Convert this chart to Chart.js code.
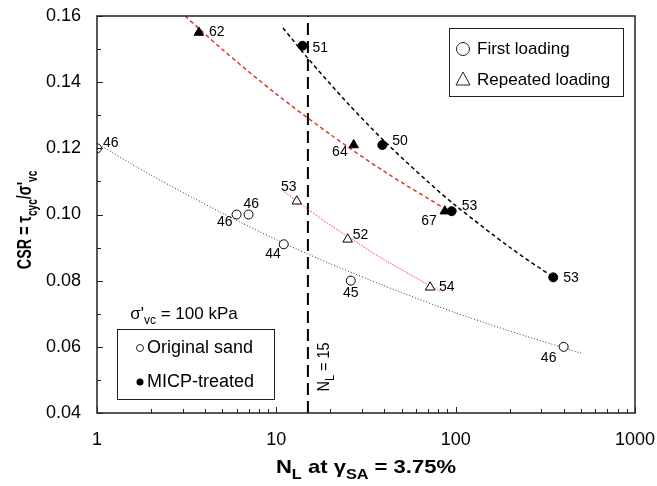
<!DOCTYPE html>
<html>
<head>
<meta charset="utf-8">
<script src="https://cdn.jsdelivr.net/npm/chart.js@4.4.1/dist/chart.umd.min.js"></script>
<style>
  html, body { margin: 0; padding: 0; background: #fff; }
  canvas { display: block; }
</style>
</head>
<body>
<canvas id="csrChart" width="657" height="486"></canvas>
<script>
// Original sand - first loading
const origFirstN = [1, 6, 7, 11, 26, 400];
const origFirstCSR = [0.120, 0.100, 0.100, 0.091, 0.080, 0.060];
const origFirstDr = ['46', '46', '46', '44', '45', '46'];

// Original sand - repeated loading
const origRepN = [13, 25, 72];
const origRepCSR = [0.104, 0.0925, 0.078];
const origRepDr = ['53', '52', '54'];

// MICP-treated - first loading
const micpFirstN = [14, 39, 95, 350];
const micpFirstCSR = [0.151, 0.121, 0.101, 0.081];
const micpFirstDr = ['51', '50', '53', '53'];

// MICP-treated - repeated loading
const micpRepN = [3.7, 27, 87];
const micpRepCSR = [0.155, 0.121, 0.101];
const micpRepDr = ['62', '64', '67'];

// Trend lines
const trendOrigFirstN = [1, 2, 5, 10, 20, 50, 100, 200, 507];
const trendOrigFirstCSR = [0.1215, 0.1119, 0.1004, 0.0924, 0.0851, 0.0764, 0.0703, 0.0648, 0.058];
const trendOrigRepN = [11, 13, 18, 25, 35, 50, 82];
const trendOrigRepCSR = [0.107, 0.1041, 0.0985, 0.0934, 0.0882, 0.0833, 0.0767];
const trendMicpRepN = [3.1, 5, 10, 20, 40, 95];
const trendMicpRepCSR = [0.160, 0.1499, 0.1364, 0.1242, 0.113, 0.1005];
const trendMicpFirstN = [10.9, 15, 25, 40, 70, 100, 200, 350];
const trendMicpFirstCSR = [0.1564, 0.1472, 0.1336, 0.1222, 0.1099, 0.1027, 0.0901, 0.081];

const limitN = 15;
const xTicks = [1, 10, 100, 1000];
const yTicks = [0.04, 0.06, 0.08, 0.10, 0.12, 0.14, 0.16];

const FONT = "'Liberation Sans', Arial, sans-serif";

function toPoints(xs, ys) {
    return xs.map((v, i) => ({ x: v, y: ys[i] }));
}

// label offsets [dx, dy, align] for each marker, relative to the marker centre
const origFirstPos = [[6, -5, 'left'], [-4, 8, 'right'], [-5, -10, 'left'], [-3, 10, 'right'], [0, 12, 'center'], [-15, 11, 'center']];
const origRepPos = [[-8, -14, 'center'], [5, -4, 'left'], [9, 0, 'left']];
const micpFirstPos = [[10, 2, 'left'], [10, -4, 'left'], [10, -5, 'left'], [10, 1, 'left']];
const micpRepPos = [[10, 0, 'left'], [-6, 7, 'right'], [-8, 10, 'right']];

function markerSet(xs, ys, texts, pos, style, filled) {
    return {
        data: toPoints(xs, ys),
        pointStyle: style,
        pointRadius: style === 'triangle' ? 5.5 : 4.5,
        pointBackgroundColor: filled ? '#000' : '#fff',
        pointBorderColor: '#000',
        pointBorderWidth: 1,
        showLine: false,
        labelText: texts,
        labelPos: pos
    };
}

function trendSet(xs, ys, color, dash, width) {
    return {
        data: toPoints(xs, ys),
        showLine: true,
        pointRadius: 0,
        borderColor: color,
        borderWidth: width,
        borderDash: dash,
        tension: 0.3
    };
}

// draw a run of text pieces, some as subscripts, centred on (cx, cy);
// stretch scales the text along its own direction
function drawRuns(ctx, runs, cx, cy, size, bold, stretch) {
    const w = bold ? 'bold ' : '';
    const s = stretch || 1;
    let total = 0;
    runs.forEach(r => {
        ctx.font = w + (r.sub ? Math.round(size * 0.72) : size) + 'px ' + FONT;
        total += ctx.measureText(r.t).width;
    });
    ctx.save();
    ctx.translate(cx, cy);
    ctx.scale(s, 1);
    let xPos = -total / 2;
    ctx.textAlign = 'left';
    ctx.textBaseline = 'alphabetic';
    runs.forEach(r => {
        ctx.font = w + (r.sub ? Math.round(size * 0.72) : size) + 'px ' + FONT;
        ctx.fillText(r.t, xPos, size * 0.36 + (r.sub ? size * 0.3 : 0));
        xPos += ctx.measureText(r.t).width;
    });
    ctx.restore();
}

const extras = {
    id: 'extras',
    afterDraw(chart) {
        const { ctx, chartArea: a, scales: { x, y } } = chart;
        ctx.save();

        // frame
        ctx.strokeStyle = '#222';
        ctx.lineWidth = 1.5;
        ctx.strokeRect(a.left, a.top, a.right - a.left, a.bottom - a.top);

        // inward ticks
        ctx.lineWidth = 1;
        ctx.beginPath();
        for (let v = 0.04; v <= 0.1601; v += 0.01) {
            const py = Math.round(y.getPixelForValue(v)) + 0.5;
            const major = Math.round(v * 100) % 2 === 0;
            ctx.moveTo(a.left, py);
            ctx.lineTo(a.left + (major ? 6 : 4), py);
        }
        for (let d = 1; d < 1000; d *= 10) {
            for (let m = 1; m <= 10; m++) {
                const px = Math.round(x.getPixelForValue(d * m)) + 0.5;
                const major = m === 1 || m === 10;
                ctx.moveTo(px, a.bottom);
                ctx.lineTo(px, a.bottom - (major ? 6 : 4));
            }
        }
        ctx.stroke();

        // point labels
        ctx.fillStyle = '#000';
        ctx.font = '14px ' + FONT;
        ctx.textBaseline = 'middle';
        chart.data.datasets.forEach((ds, i) => {
            if (!ds.labelText) return;
            const meta = chart.getDatasetMeta(i);
            meta.data.forEach((pt, j) => {
                const p = ds.labelPos[j];
                ctx.textAlign = p[2];
                ctx.fillText(ds.labelText[j], pt.x + p[0], pt.y + p[1]);
            });
        });

        // N_L = 15 label
        ctx.save();
        ctx.translate(323, 367);
        ctx.rotate(-Math.PI / 2);
        drawRuns(ctx, [{ t: 'N' }, { t: 'L', sub: true }, { t: ' = 15' }], 0, 0, 16, false, 0.9);
        ctx.restore();

        // loading legend (top right)
        ctx.lineWidth = 1;
        ctx.strokeStyle = '#222';
        ctx.strokeRect(449.5, 28.5, 174, 68);
        ctx.beginPath();
        ctx.arc(463, 49, 6.5, 0, Math.PI * 2);
        ctx.stroke();
        ctx.beginPath();
        ctx.moveTo(463, 72);
        ctx.lineTo(470, 85);
        ctx.lineTo(456, 85);
        ctx.closePath();
        ctx.stroke();
        ctx.font = '17px ' + FONT;
        ctx.textAlign = 'left';
        ctx.textBaseline = 'middle';
        ctx.fillText('First loading', 477, 49);
        ctx.fillText('Repeated loading', 477, 80);

        // material legend (bottom left)
        drawRuns(ctx, [{ t: 'σ\'' }, { t: 'vc', sub: true }, { t: ' = 100 kPa' }], 184, 313, 17, false);
        ctx.strokeRect(117.5, 329.5, 157, 70);
        ctx.beginPath();
        ctx.arc(140, 348, 3.5, 0, Math.PI * 2);
        ctx.fillStyle = '#fff';
        ctx.fill();
        ctx.stroke();
        ctx.beginPath();
        ctx.arc(140, 382, 3.5, 0, Math.PI * 2);
        ctx.fillStyle = '#000';
        ctx.fill();
        ctx.font = '18px ' + FONT;
        ctx.textAlign = 'left';
        ctx.textBaseline = 'middle';
        ctx.fillText('Original sand', 147, 348);
        ctx.fillText('MICP-treated', 147, 382);

        // axis titles
        ctx.fillStyle = '#000';
        drawRuns(ctx, [{ t: 'N' }, { t: 'L', sub: true }, { t: ' at γ' }, { t: 'SA', sub: true }, { t: ' = 3.75%' }],
            (a.left + a.right) / 2, 466, 19, true, 1.16);
        ctx.save();
        ctx.translate(24, 220);
        ctx.rotate(-Math.PI / 2);
        drawRuns(ctx, [{ t: 'CSR = τ' }, { t: 'cyc', sub: true }, { t: '/σ\'' }, { t: 'vc', sub: true }], 0, 0, 20, true, 0.72);
        ctx.restore();

        ctx.restore();
    }
};

new Chart(document.getElementById('csrChart'), {
    type: 'scatter',
    data: {
        datasets: [
            markerSet(origFirstN, origFirstCSR, origFirstDr, origFirstPos, 'circle', false),
            markerSet(origRepN, origRepCSR, origRepDr, origRepPos, 'triangle', false),
            markerSet(micpFirstN, micpFirstCSR, micpFirstDr, micpFirstPos, 'circle', true),
            markerSet(micpRepN, micpRepCSR, micpRepDr, micpRepPos, 'triangle', true),
            trendSet(trendOrigFirstN, trendOrigFirstCSR, '#333', [1, 2], 1),
            trendSet(trendOrigRepN, trendOrigRepCSR, '#ff2a2a', [1, 1], 1),
            trendSet(trendMicpRepN, trendMicpRepCSR, '#e8302a', [4, 3], 1.5),
            trendSet(trendMicpFirstN, trendMicpFirstCSR, '#000', [4, 3], 1.5),
            {
                data: [{ x: limitN, y: 0.04 }, { x: limitN, y: 0.16 }],
                showLine: true,
                pointRadius: 0,
                borderColor: '#000',
                borderWidth: 2,
                borderDash: [12, 6]
            }
        ]
    },
    options: {
        responsive: false,
        animation: false,
        devicePixelRatio: 1,
        layout: { padding: { top: 16, right: 22, left: 0, bottom: 0 } },
        plugins: {
            legend: { display: false },
            tooltip: { enabled: false }
        },
        scales: {
            x: {
                type: 'logarithmic',
                min: 1,
                max: 1000,
                afterBuildTicks: scale => { scale.ticks = xTicks.map(v => ({ value: v })); },
                afterFit: scale => {
                    scale.height = 73;
                    scale.paddingLeft = 0;
                    scale.paddingRight = 0;
                },
                grid: { display: false, drawTicks: false },
                border: { display: false },
                ticks: {
                    color: '#000',
                    font: { family: FONT, size: 18 },
                    padding: 16,
                    maxRotation: 0,
                    callback: v => String(v)
                }
            },
            y: {
                min: 0.04,
                max: 0.16,
                afterBuildTicks: scale => { scale.ticks = yTicks.map(v => ({ value: v })); },
                afterFit: scale => {
                    scale.width = 97;
                    scale.paddingTop = 0;
                    scale.paddingBottom = 0;
                },
                grid: { display: false, drawTicks: false },
                border: { display: false },
                ticks: {
                    color: '#000',
                    font: { family: FONT, size: 18 },
                    padding: 16,
                    callback: v => v.toFixed(2)
                }
            }
        }
    },
    plugins: [extras]
});
</script>
</body>
</html>
